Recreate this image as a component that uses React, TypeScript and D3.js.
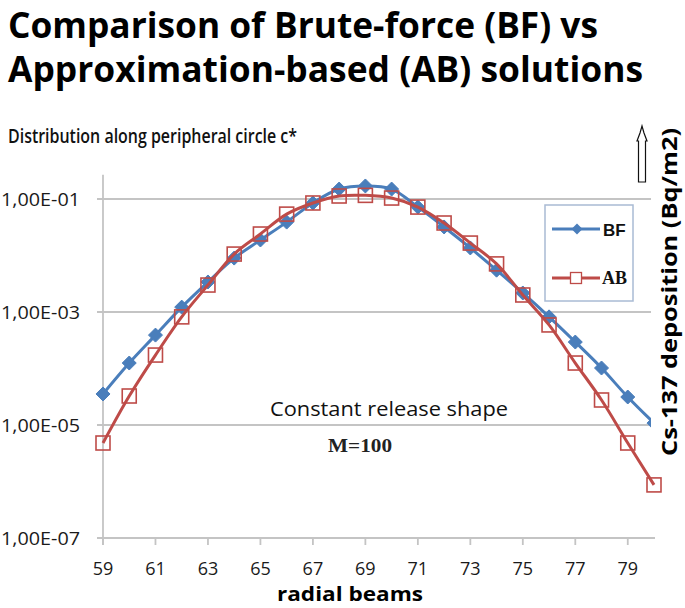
import React from "react";
import * as d3 from "d3";

const beams = [59,60,61,62,63,64,65,66,67,68,69,70,71,72,73,74,75,76,77,78,79,80];
const bfValues = [3.54e-5,1.25e-4,3.9e-4,1.22e-3,3.4e-3,9.0e-3,1.88e-2,3.9e-2,8.5e-2,0.15,0.17,0.15,0.072,0.032,0.0136,5.5e-3,2.17e-3,8.2e-4,2.94e-4,1.02e-4,3.13e-5,1.08e-5];
const abValues = [4.8e-6,3.26e-5,1.73e-4,8.2e-4,3.0e-3,1.06e-2,2.4e-2,5.4e-2,8.5e-2,0.113,0.116,0.104,0.072,0.0376,0.0166,7.1e-3,2.0e-3,5.9e-4,1.25e-4,2.77e-5,4.8e-6,8.7e-7];
const xTicks = [59,61,63,65,67,69,71,73,75,77,79];
const yTicks = [1e-1,1e-3,1e-5,1e-7];
const yTickLabels = ["1,00E-01","1,00E-03","1,00E-05","1,00E-07"];
const titleLines = ["Comparison of Brute-force (BF) vs","Approximation-based (AB) solutions"];
const subtitle = "Distribution along peripheral circle c*";
const xTitle = "radial beams";
const yTitle = "Cs-137 deposition (Bq/m2)";
const noteText = "Constant release shape";
const noteM = "M=100";
const seriesNames = ["BF","AB"];

const BLUE = "#4a7ebb";
const RED = "#be4b48";
const GRID = "#c4c4c4";
const SANS = "'Open Sans', sans-serif";

export default function App() {
  const x = d3.scaleLinear().domain([59, 80]).range([103, 654]);
  const y = d3.scaleLog().domain([1e-7, 1e-1]).range([538, 199]);
  const left = x(59);
  const right = x(80) + 1;
  const axisTop = y(0.27);

  const line = d3.line<number>()
    .x((_, i) => x(beams[i]))
    .y((d) => y(d))
    .curve(d3.curveCatmullRom.alpha(0.5));

  const diamond = (cx: number, cy: number, r: number) =>
    `M${cx},${cy - r}L${cx + r},${cy}L${cx},${cy + r}L${cx - r},${cy}Z`;

  return (
    <svg width={685} height={608} style={{ position: "absolute", left: 0, top: 0, background: "#fff" }}>
      <defs>
        <clipPath id="clipBF">
          <rect x={0} y={0} width={x(80) - 3} height={608} />
        </clipPath>
      </defs>
      {/* titles */}
      <text x={8} y={38} fontFamily={SANS} fontWeight="bold" fontSize={35} textLength={590} lengthAdjust="spacingAndGlyphs">{titleLines[0]}</text>
      <text x={8} y={82} fontFamily={SANS} fontWeight="bold" fontSize={35} textLength={635} lengthAdjust="spacingAndGlyphs">{titleLines[1]}</text>
      <text x={8} y={143} fontFamily={SANS} fontWeight={600} fontSize={20} textLength={289} lengthAdjust="spacingAndGlyphs" fill="#111">{subtitle}</text>

      {/* gridlines */}
      {yTicks.map((t) => (
        <line key={"g" + t} x1={left - 6} x2={t === 1e-7 ? right : right - 4} y1={y(t)} y2={y(t)} stroke={GRID} strokeWidth={1.8} />
      ))}
      <line x1={left} x2={left} y1={axisTop} y2={y(1e-7) + 7} stroke={GRID} strokeWidth={1.8} />
      {xTicks.map((t) => (
        <line key={"xt" + t} x1={x(t)} x2={x(t)} y1={y(1e-7)} y2={y(1e-7) + 7} stroke={GRID} strokeWidth={1.8} />
      ))}

      {/* tick labels */}
      {yTicks.map((t, i) => (
        <text key={"yl" + t} x={80} y={y(t) + 7} textAnchor="end" fontFamily={SANS} fontSize={17.5} textLength={79} lengthAdjust="spacingAndGlyphs" fill="#1a1a1a">{yTickLabels[i]}</text>
      ))}
      {xTicks.map((t) => (
        <text key={"xl" + t} x={x(t)} y={575} textAnchor="middle" fontFamily={SANS} fontSize={18} fill="#1a1a1a">{t}</text>
      ))}
      <text x={350} y={601} textAnchor="middle" fontFamily={SANS} fontWeight="bold" fontSize={20} textLength={146} lengthAdjust="spacingAndGlyphs">{xTitle}</text>

      {/* annotations */}
      <text x={389} y={416} textAnchor="middle" fontFamily={SANS} fontSize={20} textLength={238} lengthAdjust="spacingAndGlyphs" fill="#111">{noteText}</text>
      <text x={328} y={452} fontFamily="'Liberation Serif', 'DejaVu Serif', serif" fontWeight="bold" fontSize={19} textLength={64} lengthAdjust="spacingAndGlyphs" fill="#222">{noteM}</text>

      {/* series BF */}
      <g clipPath="url(#clipBF)">
        <path d={line(bfValues) || ""} fill="none" stroke={BLUE} strokeWidth={3} />
        {bfValues.map((v, i) => (
          <path key={"bf" + i} d={diamond(x(beams[i]), y(v), 7)} fill={BLUE} stroke={BLUE} strokeWidth={1} />
        ))}
      </g>
      {/* series AB */}
      <path d={line(abValues) || ""} fill="none" stroke={RED} strokeWidth={3} />
      {abValues.map((v, i) => (
        <rect key={"ab" + i} x={x(beams[i]) - 7} y={y(v) - 7} width={14} height={14} fill="none" stroke={RED} strokeWidth={1.6} />
      ))}

      {/* legend */}
      <rect x={545} y={205} width={88} height={96} fill="#fff" stroke="#a9bbd4" strokeWidth={1.5} />
      <line x1={552} x2={600} y1={229} y2={229} stroke={BLUE} strokeWidth={3} />
      <path d={diamond(577, 229, 5.5)} fill={BLUE} />
      <text x={603} y={236} fontFamily="'Liberation Sans', Arial, sans-serif" fontWeight="bold" fontSize={17} fill="#111">{seriesNames[0]}</text>
      <line x1={552} x2={600} y1={278} y2={278} stroke={RED} strokeWidth={3} />
      <rect x={570.5} y={272.5} width={11} height={11} fill="#fff" stroke={RED} strokeWidth={1.3} />
      <text x={602} y={284} fontFamily="'Liberation Serif', serif" fontWeight="bold" fontSize={18} fill="#111">{seriesNames[1]}</text>

      {/* right title and arrow */}
      <text transform="translate(677,292) rotate(-90)" textAnchor="middle" fontFamily={SANS} fontWeight="bold" fontSize={22} textLength={328} lengthAdjust="spacingAndGlyphs">{yTitle}</text>
      <path d="M642,126 L644,133 L647,141 L645.5,141 L645.5,182 L638.5,182 L638.5,141 L637,141 L640,133 Z" fill="#fff" stroke="#111" strokeWidth={1.2} />
    </svg>
  );
}
